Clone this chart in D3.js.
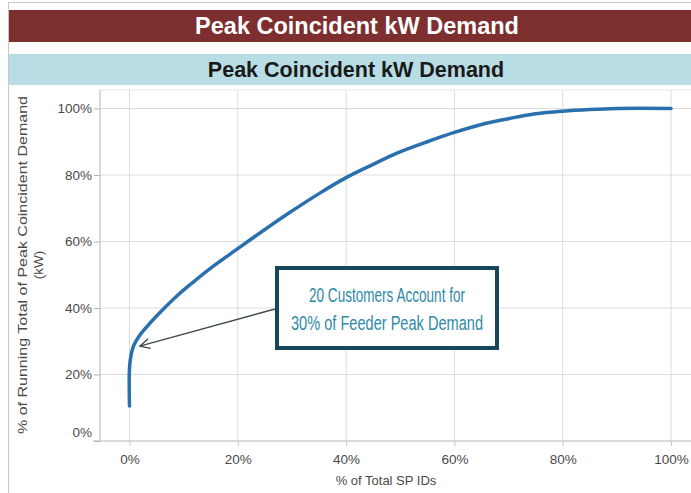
<!DOCTYPE html>
<html>
<head>
<meta charset="utf-8">
<script src="https://cdn.jsdelivr.net/npm/d3@7"></script>
<style>
  body { margin: 0; background: #fff; }
  svg { display: block; }
</style>
</head>
<body>
<script>
// data
const spShare = [0, 0, 0.3, 0.8, 1.8, 3.1, 5, 6.5, 9, 11.4, 15, 19.6, 25, 29.3, 35, 40, 45, 49.3, 55, 60, 65, 70.2, 75, 80, 85, 90, 100];
const demandShare = [10.5, 22, 26, 28.8, 31.6, 34.2, 37.6, 40.1, 44, 47.3, 52, 57.4, 63.6, 68.4, 74.4, 79.2, 83.2, 86.5, 90, 92.8, 95.2, 97, 98.4, 99.2, 99.7, 100, 100];
const xTicks = [0, 20, 40, 60, 80, 100];
const yTicks = [0, 20, 40, 60, 80, 100];
const title = "Peak Coincident kW Demand";
const noteLines = ["20 Customers Account for", "30% of Feeder Peak Demand"];
const notePoint = [1.9, 28.5];

const width = 691, height = 493;

const svg = d3.select("body").append("svg")
  .attr("width", width)
  .attr("height", height)
  .attr("font-family", "Liberation Sans, Arial, sans-serif");

// outer frame
svg.append("rect")
  .attr("x", 8.5).attr("y", 2.5)
  .attr("width", width).attr("height", height)
  .attr("fill", "none")
  .attr("stroke", "#c8c8c8");

// top banner
svg.append("rect")
  .attr("x", 9).attr("y", 10)
  .attr("width", width - 9).attr("height", 32)
  .attr("fill", "#7d2f2f");
svg.append("text")
  .text(title)
  .attr("x", 357).attr("y", 34)
  .attr("text-anchor", "middle")
  .attr("font-size", 23.5)
  .attr("font-weight", "bold")
  .attr("fill", "#ffffff");

// sub banner
svg.append("rect")
  .attr("x", 9).attr("y", 54)
  .attr("width", width - 9).attr("height", 31)
  .attr("fill", "#b9dde4");
svg.append("text")
  .text(title)
  .attr("x", 356).attr("y", 77)
  .attr("text-anchor", "middle")
  .attr("font-size", 21.5)
  .attr("font-weight", "bold")
  .attr("fill", "#1a1a1a");

// scales
const x = d3.scaleLinear().domain([0, 100]).range([129.5, 671]);
const y = d3.scaleLinear().domain([0, 100]).range([441, 108.5]);

const plotLeft = 100, plotTop = 90, plotBottom = 441;

// pane border
svg.append("line")
  .attr("x1", plotLeft).attr("x2", width)
  .attr("y1", plotTop).attr("y2", plotTop)
  .attr("stroke", "#e2e2e2");

// gridlines
svg.append("g")
  .selectAll("line")
  .data(xTicks)
  .join("line")
  .attr("x1", d => x(d)).attr("x2", d => x(d))
  .attr("y1", plotTop).attr("y2", plotBottom)
  .attr("stroke", "#dcdcdc");

svg.append("g")
  .selectAll("line")
  .data(yTicks.filter(d => d > 0))
  .join("line")
  .attr("x1", plotLeft).attr("x2", width)
  .attr("y1", d => y(d)).attr("y2", d => y(d))
  .attr("stroke", "#dcdcdc");

// axes
const fmt = d => d + "%";

const yAxis = svg.append("g")
  .attr("transform", `translate(${plotLeft},0)`)
  .call(d3.axisLeft(y).tickValues(yTicks).tickFormat(fmt).tickSize(6).tickPadding(2));
yAxis.select(".domain").attr("stroke", "#b4b4b4").attr("d", `M0,${plotTop}V${plotBottom}`);
yAxis.selectAll(".tick line").attr("stroke", "#b4b4b4");
yAxis.selectAll(".tick text")
  .attr("font-size", 13.5)
  .attr("font-family", "Liberation Sans, Arial, sans-serif")
  .attr("fill", "#4a4a4a");
yAxis.selectAll(".tick").filter(d => d === 0).select("text").attr("dy", "-0.3em");

const xAxis = svg.append("g")
  .attr("transform", `translate(0,${plotBottom})`)
  .call(d3.axisBottom(x).tickValues(xTicks).tickFormat(fmt).tickSize(5).tickPadding(8));
xAxis.select(".domain").attr("stroke", "#b4b4b4").attr("d", `M${plotLeft - 7},0H${width}`);
xAxis.selectAll(".tick line").attr("stroke", "#c8c8c8");
xAxis.selectAll(".tick text")
  .attr("font-size", 13.5)
  .attr("font-family", "Liberation Sans, Arial, sans-serif")
  .attr("fill", "#4a4a4a");

// axis titles
svg.append("text")
  .text("% of Total SP IDs")
  .attr("x", 386).attr("y", 485)
  .attr("text-anchor", "middle")
  .attr("font-size", 13)
  .attr("fill", "#4a4a4a");

const yTitle = svg.append("text")
  .attr("transform", "translate(27,265) rotate(-90)")
  .attr("text-anchor", "middle")
  .attr("font-size", 13.5)
  .attr("fill", "#4a4a4a");
yTitle.append("tspan").attr("x", 0).attr("dy", 0)
  .attr("textLength", 338).attr("lengthAdjust", "spacingAndGlyphs")
  .text("% of Running Total of Peak Coincident Demand");
yTitle.append("tspan").attr("x", 0).attr("dy", 16).text("(kW)");

// curve
const points = spShare.map((d, i) => [d, demandShare[i]]);
const line = d3.line()
  .x(d => x(d[0]))
  .y(d => y(d[1]))
  .curve(d3.curveCatmullRom.alpha(0.5));

svg.append("path")
  .datum(points)
  .attr("d", line)
  .attr("fill", "none")
  .attr("stroke", "#2a70ae")
  .attr("stroke-width", 3.5)
  .attr("stroke-linecap", "round");

// annotation arrow
svg.append("defs").append("marker")
  .attr("id", "arrow")
  .attr("viewBox", "0 0 12 12")
  .attr("refX", 11).attr("refY", 6)
  .attr("markerWidth", 12).attr("markerHeight", 12)
  .attr("markerUnits", "userSpaceOnUse")
  .attr("orient", "auto")
  .append("path")
  .attr("d", "M1,1L11,6L1,11")
  .attr("fill", "none")
  .attr("stroke", "#3c4a50")
  .attr("stroke-width", 1.3);

svg.append("line")
  .attr("x1", 275).attr("y1", 309)
  .attr("x2", x(notePoint[0])).attr("y2", y(notePoint[1]))
  .attr("stroke", "#3c4a50")
  .attr("stroke-width", 1.3)
  .attr("marker-end", "url(#arrow)");

// annotation box
svg.append("rect")
  .attr("x", 277).attr("y", 268)
  .attr("width", 220).attr("height", 80)
  .attr("fill", "#ffffff")
  .attr("stroke", "#17475a")
  .attr("stroke-width", 4);

const noteWidths = [156, 192];
svg.append("g")
  .selectAll("text")
  .data(noteLines)
  .join("text")
  .text(d => d)
  .attr("x", 387)
  .attr("y", (d, i) => 302 + i * 28)
  .attr("text-anchor", "middle")
  .attr("font-size", 20.5)
  .attr("textLength", (d, i) => noteWidths[i])
  .attr("lengthAdjust", "spacingAndGlyphs")
  .attr("fill", "#2f8aa6");
</script>
</body>
</html>
